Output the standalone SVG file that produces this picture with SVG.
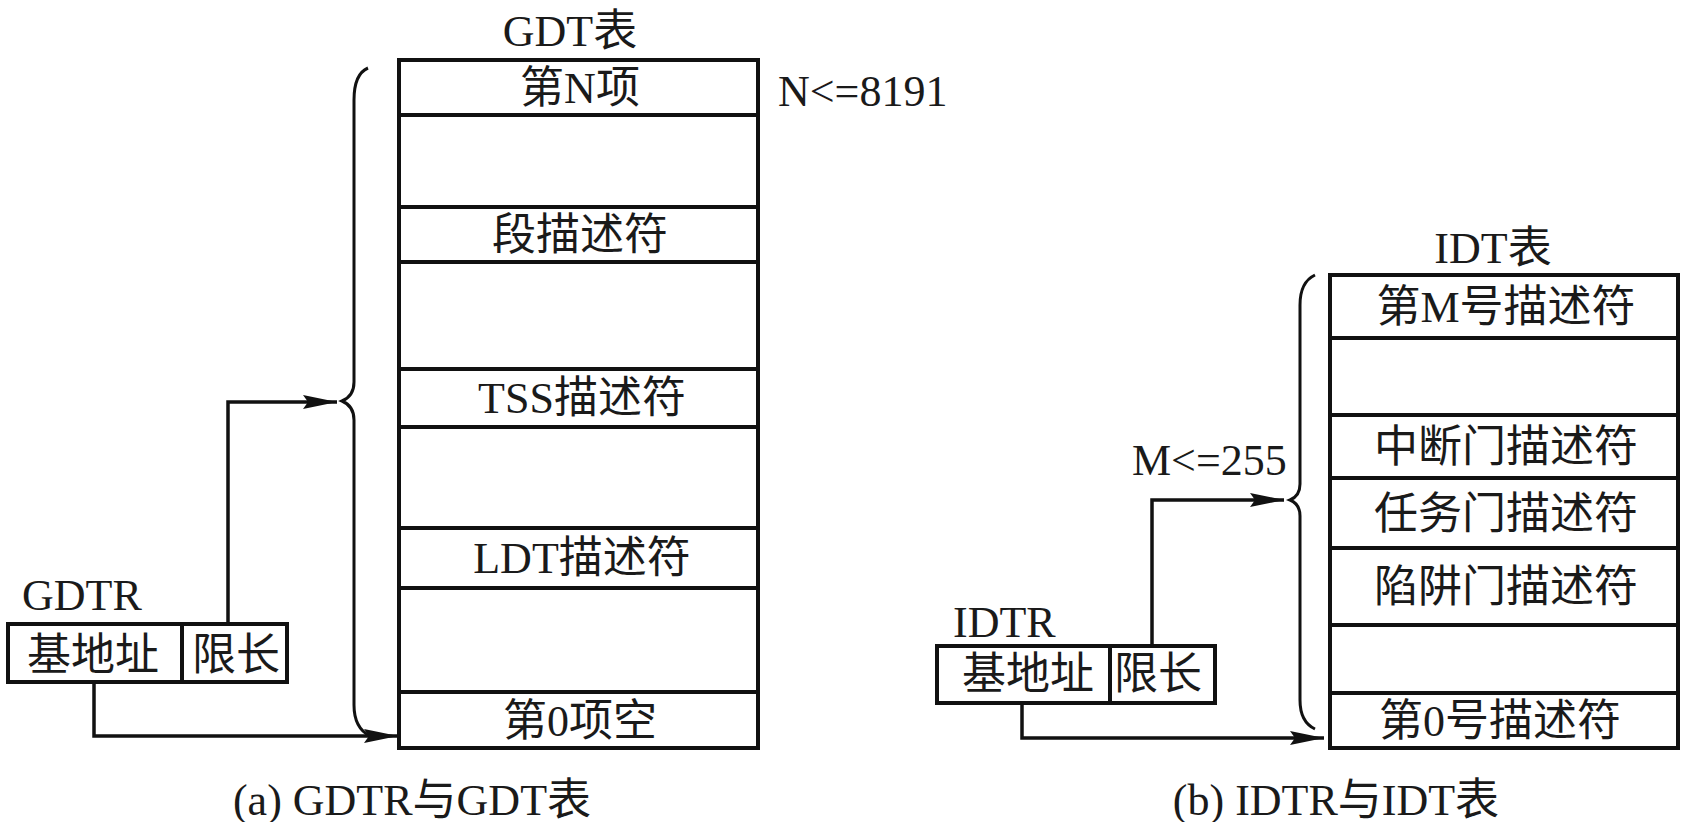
<svg xmlns="http://www.w3.org/2000/svg" width="1683" height="822" viewBox="0 0 1683 822">
<style>
.t{font-family:"Liberation Serif","Noto Sans CJK SC",serif;font-size:44px;fill:#1a1a1a}
.c{text-anchor:middle}
.box{fill:#fff;stroke:#111;stroke-width:4}
.ln{stroke:#111;stroke-width:4;fill:none}
.con{stroke:#111;stroke-width:3.5;fill:none}
.br{stroke:#111;stroke-width:3;fill:none}
</style>
<defs>
<marker id="ah" markerUnits="userSpaceOnUse" markerWidth="36" markerHeight="18" refX="34" refY="8" orient="auto">
<path d="M0,1 L34,8 L0,15 L5,8 Z" fill="#111"/>
</marker>
</defs>
<rect width="1683" height="822" fill="#fff"/>

<g id="gdt">
<text class="t c" x="570" y="46">GDT表</text>
<rect class="box" x="399" y="60" width="359" height="688"/>
<line class="ln" x1="399" y1="115" x2="758" y2="115"/>
<line class="ln" x1="399" y1="207" x2="758" y2="207"/>
<line class="ln" x1="399" y1="262" x2="758" y2="262"/>
<line class="ln" x1="399" y1="369" x2="758" y2="369"/>
<line class="ln" x1="399" y1="427" x2="758" y2="427"/>
<line class="ln" x1="399" y1="528" x2="758" y2="528"/>
<line class="ln" x1="399" y1="588" x2="758" y2="588"/>
<line class="ln" x1="399" y1="692" x2="758" y2="692"/>
<text class="t c" x="580" y="103">第N项</text>
<text class="t c" x="580" y="250">段描述符</text>
<text class="t c" x="582" y="413">TSS描述符</text>
<text class="t c" x="582" y="573">LDT描述符</text>
<text class="t c" x="580" y="736">第0项空</text>
<text class="t" x="778" y="106">N&lt;=8191</text>
<path class="br" d="M368,68 Q354,74 354,100 L354,382 Q354,396 342,401 Q354,406 354,420 L354,705 Q354,728 370,736"/>
</g>

<g id="gdtr">
<text class="t" x="22" y="610">GDTR</text>
<rect class="box" x="8" y="624" width="279" height="58"/>
<line class="ln" x1="182" y1="624" x2="182" y2="682"/>
<text class="t c" x="93" y="670">基地址</text>
<text class="t c" x="236" y="670">限长</text>
</g>

<g id="idt">
<text class="t c" x="1493" y="263">IDT表</text>
<rect class="box" x="1330" y="275" width="348" height="473"/>
<line class="ln" x1="1330" y1="338" x2="1678" y2="338"/>
<line class="ln" x1="1330" y1="415" x2="1678" y2="415"/>
<line class="ln" x1="1330" y1="478" x2="1678" y2="478"/>
<line class="ln" x1="1330" y1="548" x2="1678" y2="548"/>
<line class="ln" x1="1330" y1="625" x2="1678" y2="625"/>
<line class="ln" x1="1330" y1="693" x2="1678" y2="693"/>
<text class="t c" x="1506" y="322">第M号描述符</text>
<text class="t c" x="1506" y="462">中断门描述符</text>
<text class="t c" x="1506" y="529">任务门描述符</text>
<text class="t c" x="1506" y="602">陷阱门描述符</text>
<text class="t c" x="1500" y="736">第0号描述符</text>
<text class="t" x="1132" y="475">M&lt;=255</text>
<path class="br" d="M1315,275 Q1300,282 1300,305 L1300,484 Q1300,496 1290,500 Q1300,504 1300,516 L1300,700 Q1300,722 1315,729"/>
</g>

<g id="idtr">
<text class="t" x="953" y="637">IDTR</text>
<rect class="box" x="937" y="646" width="278" height="57"/>
<line class="ln" x1="1110" y1="646" x2="1110" y2="703"/>
<text class="t c" x="1028" y="689">基地址</text>
<text class="t c" x="1158" y="689">限长</text>
</g>

<g id="connectors">
<polyline class="con" points="228,624 228,402 337,402" marker-end="url(#ah)"/>
<polyline class="con" points="94,682 94,736 398,736" marker-end="url(#ah)"/>
<polyline class="con" points="1152,646 1152,500 1284,500" marker-end="url(#ah)"/>
<polyline class="con" points="1022,703 1022,738 1324,738" marker-end="url(#ah)"/>
</g>

<g id="captions">
<text class="t c" x="412" y="815">(a) GDTR与GDT表</text>
<text class="t c" x="1336" y="815">(b) IDTR与IDT表</text>
</g>
</svg>
